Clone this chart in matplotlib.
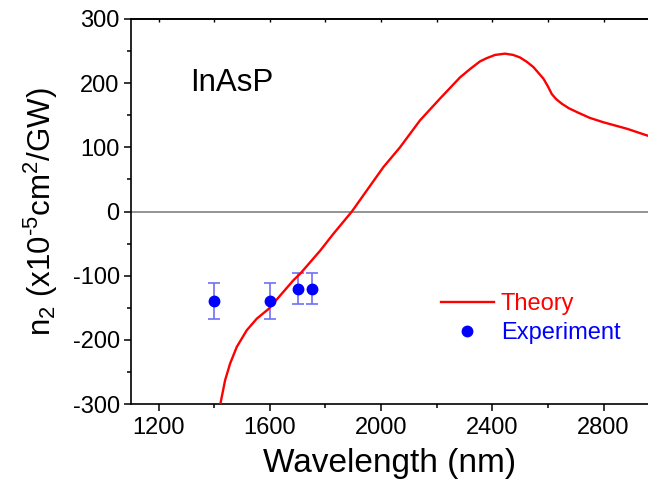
import numpy as np
import matplotlib
matplotlib.use('Agg')
from matplotlib import pyplot as plt
from matplotlib.ticker import MultipleLocator

plt.rcParams['font.family'] = ['Liberation Sans', 'DejaVu Sans']
plt.rcParams['mathtext.fontset'] = 'custom'
plt.rcParams['mathtext.rm'] = 'Liberation Sans'
plt.rcParams['mathtext.default'] = 'regular'
plt.rcParams['axes.unicode_minus'] = False

# theory curve
wl_theory = [1421, 1439, 1457, 1481, 1517, 1553, 1595, 1637, 1685, 1709,
             1781, 1828, 1895, 1949, 2008, 2068, 2140, 2212, 2284, 2320,
             2356, 2380, 2410, 2446, 2475, 2500, 2525, 2548, 2584, 2600,
             2614, 2630, 2650, 2675, 2704, 2750, 2800, 2884, 2960]
n2_theory = [-302, -263, -237, -211, -185, -167, -152, -131, -107, -97,
             -61, -35, 0, 33, 69, 100, 142, 176, 209, 222,
             234, 239, 244, 246, 244, 240, 233, 225, 207, 195,
             183, 175, 168, 161, 155, 146, 139, 129, 118]

# experiment
wl_exp = [1400, 1600, 1700, 1750]
n2_exp = [-140, -140, -120, -120]
n2_err = [28, 28, 24, 24]

fig = plt.figure(figsize=(6.48, 4.87), dpi=100)
ax = fig.add_axes([0.2019, 0.1704, 0.7981, 0.7906])

ax.axhline(0, color='#808080', lw=1.2, zorder=1)
ax.plot(wl_theory, n2_theory, color='red', lw=1.7, label='Theory', zorder=3)
ax.errorbar(wl_exp, n2_exp, yerr=n2_err, fmt='none', ecolor='#6f6ff5',
            elinewidth=1.2, capsize=4, capthick=1.2, zorder=2)
ax.plot(wl_exp, n2_exp, 'o', color='blue', ms=7.5, label='Experiment', zorder=4)

ax.set_xlim(1100, 2960)
ax.set_ylim(-300, 300)
ax.set_xticks([1200, 1600, 2000, 2400, 2800])
ax.xaxis.set_minor_locator(MultipleLocator(200))
ax.yaxis.set_major_locator(MultipleLocator(100))
ax.yaxis.set_minor_locator(MultipleLocator(50))

ax.spines['right'].set_visible(False)
for s in ['left', 'bottom', 'top']:
    ax.spines[s].set_linewidth(1.2)

ax.tick_params(which='major', direction='out', length=5, width=1.1, labelsize=17)
ax.tick_params(which='minor', direction='out', length=3, width=1.1)
ax.tick_params(axis='y', which='major', pad=3)
ax.tick_params(axis='x', which='major', pad=4)

# tiny inward ticks on the top spine
top = ax.secondary_xaxis('top')
top.set_xticks([1200, 1600, 2000, 2400, 2800])
top.xaxis.set_minor_locator(MultipleLocator(200))
top.tick_params(which='both', direction='in', length=2.5, width=1, labeltop=False)
top.spines['top'].set_linewidth(1.2)

ax.set_xlabel('Wavelength (nm)', fontsize=24, labelpad=7)
ax.set_ylabel(r'n$_2$ (x10$^{\text{-}5}$cm$^2$/GW)', fontsize=22.5, labelpad=9)

fig.text(190 / 648, 1 - 91 / 487, 'InAsP', fontsize=22.5, va='baseline')

ax.legend(loc='center left', bbox_to_anchor=(440.7 / 648, 1 - 318.5 / 487),
          bbox_transform=fig.transFigure, frameon=False, fontsize=17,
          handlelength=2.25, handletextpad=0.3, labelspacing=0.28,
          borderpad=0, borderaxespad=0, labelcolor='linecolor', numpoints=1)

fig.savefig('out.png', dpi=100)
